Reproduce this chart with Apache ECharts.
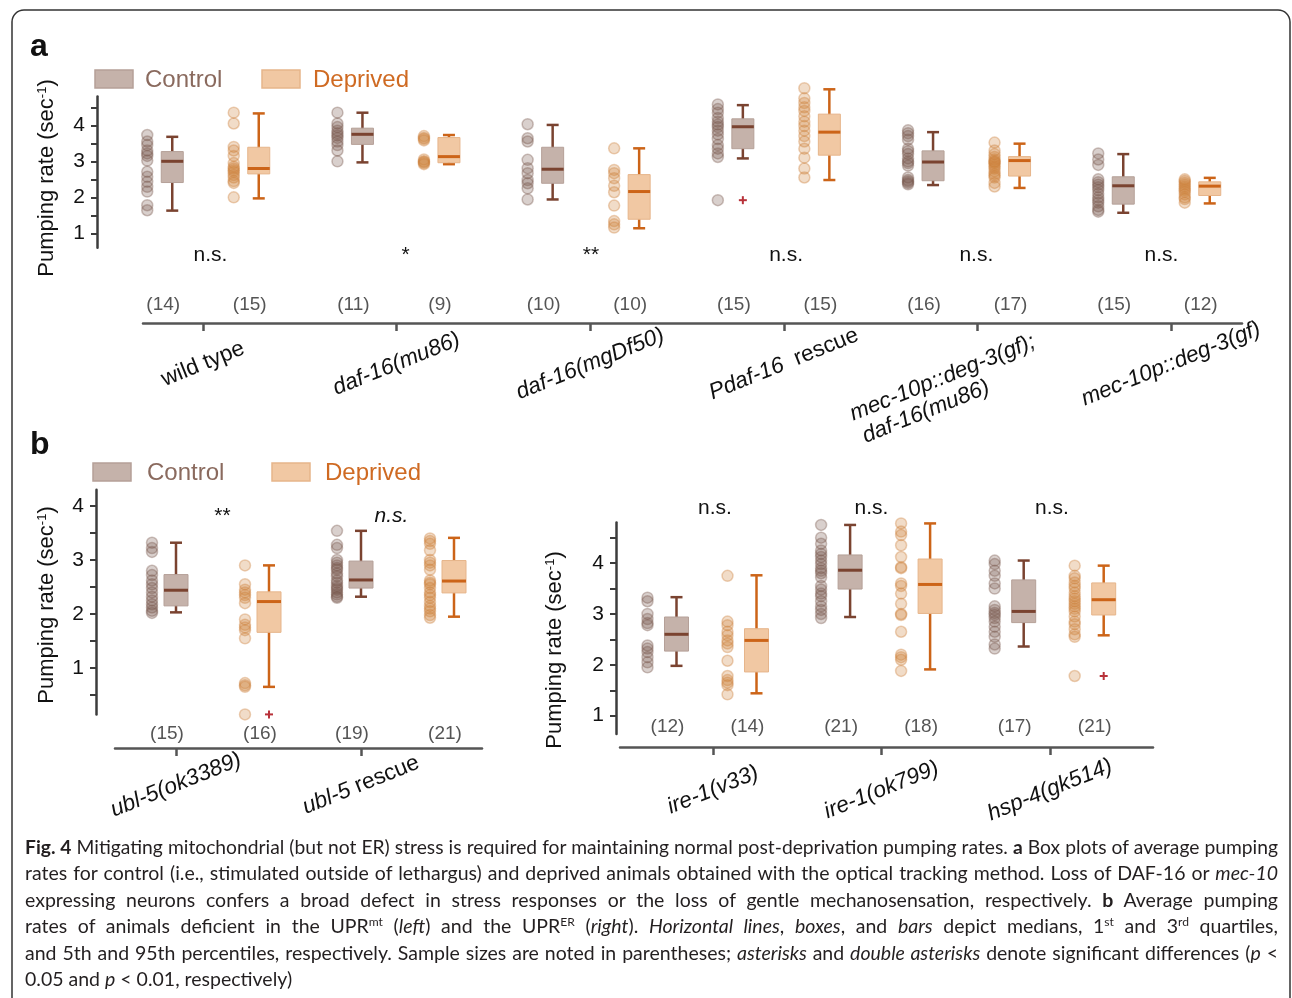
<!DOCTYPE html>
<html>
<head>
<meta charset="UTF-8" />
<title>Fig. 4</title>
<style>
* { margin: 0; padding: 0; }
body { background: #fff; }
#wrap { position: relative; width: 1292px; height: 998px; overflow: hidden; }
#chart { position: absolute; left: 0; top: 0; width: 1292px; height: 998px; }
#caption {
  position: absolute; left: 25px; top: 834px; width: 1253px;
  font-family: "Liberation Sans Narrow", "Lato", sans-serif;
  font-size: 19.5px; line-height: 26.4px; color: #231f20;
}
#caption div { text-align: justify; text-align-last: justify; }
#caption div.last { text-align-last: left; }
#caption sup { font-size: 0.62em; line-height: 0; vertical-align: 0.55em; }
</style>
</head>
<body>
<div id="wrap">
  <div id="chart"></div>
  <div id="caption">
    <div><b>Fig. 4</b> Mitigating mitochondrial (but not ER) stress is required for maintaining normal post-deprivation pumping rates. <b>a</b> Box plots of average pumping</div>
    <div>rates for control (i.e., stimulated outside of lethargus) and deprived animals obtained with the optical tracking method. Loss of DAF-16 or <i>mec-10</i></div>
    <div>expressing neurons confers a broad defect in stress responses or the loss of gentle mechanosensation, respectively. <b>b</b> Average pumping</div>
    <div>rates of animals deficient in the UPR<sup>mt</sup> (<i>left</i>) and the UPR<sup>ER</sup> (<i>right</i>). <i>Horizontal lines</i>, <i>boxes</i>, and <i>bars</i> depict medians, 1<sup>st</sup> and 3<sup>rd</sup> quartiles,</div>
    <div>and 5th and 95th percentiles, respectively. Sample sizes are noted in parentheses; <i>asterisks</i> and <i>double asterisks</i> denote significant differences (<i>p</i> &lt;</div>
    <div class="last">0.05 and <i>p</i> &lt; 0.01, respectively)</div>
  </div>
</div>
<script src="https://cdn.jsdelivr.net/npm/echarts@6/dist/echarts.min.js"></script>
<script>
// ---------- panel a ----------
// the two-line label is padded with blanks so it sits lower-left like the original
const groupsA = ['wild type', '{i|daf-16(mu86)}', '{i|daf-16(mgDf50)}', '{i|Pdaf-16}  rescue',
  ' \n{i|mec-10p::deg-3(gf);}            \n{i|daf-16(mu86)}                     ', '{i|mec-10p::deg-3(gf)}']
// [lower whisker, q1, median, q3, upper whisker]
const ctrlBoxA = [[1.63, 2.41, 3.00, 3.27, 3.68], [2.97, 3.47, 3.75, 3.92, 4.35], [1.94, 2.39, 2.78, 3.39, 4.01],
  [3.08, 3.35, 3.96, 4.18, 4.56], [2.34, 2.46, 2.98, 3.29, 3.81], [1.57, 1.81, 2.32, 2.57, 3.20]]
const depBoxA = [[1.97, 2.65, 2.80, 3.39, 4.33], [2.92, 2.96, 3.13, 3.66, 3.73], [1.14, 1.39, 2.16, 2.63, 3.36],
  [2.48, 3.17, 3.81, 4.31, 5.00], [2.26, 2.59, 3.02, 3.13, 3.49], [1.83, 2.05, 2.31, 2.43, 2.54]]
const ctrlDotsA = [
  [3.73, 3.55, 3.45, 3.30, 3.22, 3.15, 3.02, 2.71, 2.57, 2.43, 2.29, 2.16, 1.78, 1.64],
  [4.35, 4.05, 3.95, 3.85, 3.78, 3.72, 3.65, 3.55, 3.45, 3.30, 3.00],
  [4.03, 3.64, 3.55, 3.04, 2.81, 2.67, 2.48, 2.39, 2.25, 1.94],
  [4.58, 4.45, 4.35, 4.20, 4.10, 4.02, 3.95, 3.85, 3.75, 3.62, 3.45, 3.35, 3.22, 3.12, 1.92],
  [3.86, 3.78, 3.70, 3.60, 3.35, 3.28, 3.20, 3.08, 3.00, 2.95, 2.88, 2.55, 2.48, 2.44, 2.40, 2.36],
  [3.22, 3.05, 2.90, 2.50, 2.42, 2.35, 2.28, 2.20, 2.10, 2.00, 1.92, 1.85, 1.75, 1.65, 1.60]]
const depDotsA = [
  [4.35, 4.05, 3.40, 3.30, 3.15, 2.95, 2.85, 2.80, 2.75, 2.70, 2.62, 2.55, 2.45, 2.40, 2.00],
  [3.70, 3.65, 3.62, 3.58, 3.05, 3.00, 2.98, 2.95, 2.92],
  [3.36, 2.76, 2.67, 2.53, 2.32, 2.14, 1.77, 1.34, 1.25, 1.16],
  [5.03, 4.75, 4.62, 4.50, 4.40, 4.25, 4.10, 3.98, 3.85, 3.70, 3.55, 3.35, 3.10, 2.80, 2.55],
  [3.52, 3.30, 3.20, 3.12, 3.05, 3.00, 2.98, 2.95, 2.90, 2.85, 2.80, 2.72, 2.65, 2.60, 2.55, 2.40, 2.30],
  [2.50, 2.45, 2.40, 2.35, 2.30, 2.25, 2.20, 2.15, 2.08, 2.00, 1.95, 1.85]]
const ctrlOutA = [[], [], [], [1.92], [], []]
const depOutA = [[], [], [], [], [], []]
const ctrlNA = [14, 11, 10, 15, 16, 15]
const depNA = [15, 9, 10, 15, 17, 12]
const sigA = ['n.s.', '*', '**', 'n.s.', 'n.s.', 'n.s.']

// ---------- panel b, left ----------
const groupsBL = ['{i|ubl-5(ok3389)}', '{i|ubl-5} rescue']
const ctrlBoxBL = [[2.03, 2.15, 2.44, 2.73, 3.32], [2.32, 2.48, 2.63, 2.98, 3.54]]
const depBoxBL = [[0.65, 1.66, 2.23, 2.41, 2.90], [1.95, 2.39, 2.61, 2.99, 3.41]]
const ctrlDotsBL = [
  [3.32, 3.22, 3.15, 2.80, 2.72, 2.62, 2.55, 2.48, 2.40, 2.32, 2.25, 2.18, 2.12, 2.06, 2.02],
  [3.54, 3.28, 3.22, 3.00, 2.95, 2.90, 2.85, 2.82, 2.75, 2.70, 2.62, 2.58, 2.52, 2.48, 2.45, 2.40, 2.36, 2.32, 2.30]]
const depDotsBL = [
  [2.90, 2.55, 2.45, 2.40, 2.35, 2.30, 2.20, 1.90, 1.80, 1.75, 1.70, 1.55, 0.72, 0.68, 0.65, 0.14],
  [3.40, 3.35, 3.30, 3.18, 3.00, 2.95, 2.90, 2.82, 2.62, 2.58, 2.55, 2.48, 2.40, 2.35, 2.30, 2.22, 2.15, 2.10, 2.05, 1.98, 1.93]]
const ctrlOutBL = [[], []]
const depOutBL = [[0.14], []]
const ctrlNBL = [15, 19]
const depNBL = [16, 21]
const sigBL = ['**', 'n.s.']

// ---------- panel b, right ----------
const groupsBR = ['{i|ire-1(v33)}', '{i|ire-1(ok799)}', '{i|hsp-4(gk514)}']
const ctrlBoxBR = [[1.98, 2.27, 2.60, 2.94, 3.33], [2.94, 3.49, 3.86, 4.16, 4.75], [2.36, 2.83, 3.05, 3.67, 4.05]]
const depBoxBR = [[1.44, 1.86, 2.48, 2.71, 3.76], [1.91, 3.01, 3.58, 4.08, 4.78], [2.58, 2.98, 3.28, 3.61, 3.95]]
const ctrlDotsBR = [
  [3.32, 3.25, 3.00, 2.90, 2.82, 2.78, 2.38, 2.32, 2.25, 2.15, 2.05, 1.95],
  [4.75, 4.50, 4.38, 4.25, 4.18, 4.12, 4.05, 3.98, 3.90, 3.85, 3.80, 3.72, 3.55, 3.48, 3.40, 3.35, 3.25, 3.15, 3.08, 3.00, 2.92],
  [4.05, 3.98, 3.85, 3.75, 3.60, 3.50, 3.15, 3.08, 3.02, 2.98, 2.92, 2.85, 2.75, 2.65, 2.55, 2.40, 2.32]]
const depDotsBR = [
  [3.75, 2.85, 2.78, 2.65, 2.58, 2.48, 2.42, 2.35, 2.08, 1.78, 1.70, 1.65, 1.60, 1.42],
  [4.78, 4.62, 4.55, 4.35, 4.12, 3.92, 3.90, 3.60, 3.55, 3.40, 3.20, 3.00, 2.98, 2.65, 2.20, 2.15, 2.10, 1.88],
  [3.95, 3.75, 3.70, 3.62, 3.55, 3.50, 3.42, 3.35, 3.30, 3.25, 3.20, 3.15, 3.10, 3.05, 2.95, 2.85, 2.80, 2.70, 2.60, 2.55, 1.78]]
const ctrlOutBR = [[], [], []]
const depOutBR = [[], [], [1.78]]
const ctrlNBR = [12, 21, 17]
const depNBR = [14, 18, 21]
const sigBR = ['n.s.', 'n.s.', 'n.s.']

const yTicksA = [1, 1.5, 2, 2.5, 3, 3.5, 4, 4.5]
const yTicksBL = [0.5, 1, 1.5, 2, 2.5, 3, 3.5, 4]
const yTicksBR = [1, 1.5, 2, 2.5, 3, 3.5, 4, 4.5]
const yLabels = [1, 2, 3, 4]

// ---------- styles ----------
const FONT = '"Liberation Sans", Arial, Helvetica, sans-serif'
const CTRL = { fill: '#c5b2aa', edge: '#b5a098', line: '#7a4330', dot: 'rgba(120,86,76,0.28)', dotEdge: 'rgba(120,86,76,0.36)' }
const DEP = { fill: '#f1c8a3', edge: '#e6b58b', line: '#cc6418', dot: 'rgba(206,128,58,0.28)', dotEdge: 'rgba(206,128,58,0.36)' }
const PLUS = '#b8323a'
const LABEL_SIZE = 22.5

// layout of each panel (pixels)
const panels = [
  { groups: groupsA, ctrlBox: ctrlBoxA, depBox: depBoxA, ctrlDots: ctrlDotsA, depDots: depDotsA,
    ctrlOut: ctrlOutA, depOut: depOutA, ctrlN: ctrlNA, depN: depNA, sig: sigA, yTicks: yTicksA,
    yMin: 0.6, yMax: 4.8, top: 96.5, bottom: 247.7, lineLeft: 143, lineRight: 1242, yAxisX: 97, lineY: 323,
    box0: 172.25, pitch: 190.2, dodge: 86.5, dotOff: -25, countOff: -9, tick0: 203, tickPitch: 193.6,
    boxW: 22, countY: 305, sigY: 255, sigOnTicks: false, sigItalic: false, sigDx: [-5, 0, -5, 0, 0, -5], labelMargin: 41 },
  { groups: groupsBL, ctrlBox: ctrlBoxBL, depBox: depBoxBL, ctrlDots: ctrlDotsBL, depDots: depDotsBL,
    ctrlOut: ctrlOutBL, depOut: depOutBL, ctrlN: ctrlNBL, depN: depNBL, sig: sigBL, yTicks: yTicksBL,
    yMin: 0.14, yMax: 4.3, top: 489.8, bottom: 714.4, lineLeft: 115, lineRight: 482, yAxisX: 96, lineY: 748,
    box0: 176, pitch: 185, dodge: 93, dotOff: -24, countOff: -9, tick0: 176, tickPitch: 185,
    boxW: 24, countY: 734, sigY: 516, sigOnTicks: false, sigItalic: true, sigDx: [0, -16], labelMargin: 37 },
  { groups: groupsBR, ctrlBox: ctrlBoxBR, depBox: depBoxBR, ctrlDots: ctrlDotsBR, depDots: depDotsBR,
    ctrlOut: ctrlOutBR, depOut: depOutBR, ctrlN: ctrlNBR, depN: depNBR, sig: sigBR, yTicks: yTicksBR,
    yMin: 0.64, yMax: 4.8, top: 522.4, bottom: 734, lineLeft: 620, lineRight: 1153, yAxisX: 616, lineY: 747,
    box0: 676.5, pitch: 173.6, dodge: 80, dotOff: -29, countOff: -9, tick0: 713, tickPitch: 168.5,
    boxW: 24, countY: 727, sigY: 508, sigOnTicks: true, sigItalic: false, sigDx: [2, -10, 2], labelMargin: 43 }
]

const italic = { fontStyle: 'italic', fontFamily: FONT, fontSize: LABEL_SIZE, color: '#111', lineHeight: 25 }

function boxSeries(p, k, stats, shift, c) {
  return {
    type: 'custom', xAxisIndex: 2 * k, yAxisIndex: k, clip: false, z: 3,
    encode: { x: 0, y: [1, 2, 3, 4, 5] },
    data: stats.map((s, i) => [i + shift].concat(s)),
    renderItem: (params, api) => {
      const x = api.value(0)
      const lo = api.coord([x, api.value(1)])
      const q1 = api.coord([x, api.value(2)])
      const md = api.coord([x, api.value(3)])
      const q3 = api.coord([x, api.value(4)])
      const hi = api.coord([x, api.value(5)])
      const cx = lo[0], hw = p.boxW / 2, cw = 6
      const ln = { stroke: c.line, lineWidth: 2.5 }
      return { type: 'group', children: [
        { type: 'line', shape: { x1: cx, y1: hi[1], x2: cx, y2: lo[1] }, style: ln },
        { type: 'line', shape: { x1: cx - cw, y1: hi[1], x2: cx + cw, y2: hi[1] }, style: ln },
        { type: 'line', shape: { x1: cx - cw, y1: lo[1], x2: cx + cw, y2: lo[1] }, style: ln },
        { type: 'rect', shape: { x: cx - hw, y: q3[1], width: 2 * hw, height: q1[1] - q3[1] },
          style: { fill: c.fill, stroke: c.edge, lineWidth: 1 } },
        { type: 'line', shape: { x1: cx - hw, y1: md[1], x2: cx + hw, y2: md[1] }, style: { stroke: c.line, lineWidth: 3 } }
      ] }
    }
  }
}

function dotSeries(p, k, dots, shift, c) {
  const off = shift + p.dotOff / p.pitch
  return {
    type: 'scatter', xAxisIndex: 2 * k, yAxisIndex: k, clip: false, z: 2,
    symbolSize: 11,
    itemStyle: { color: c.dot, borderColor: c.dotEdge, borderWidth: 1.5, opacity: 1 },
    data: dots.flatMap((vals, i) => vals.map(v => [i + off, v]))
  }
}

function plusSeries(p, k, outs, shift) {
  return {
    type: 'custom', xAxisIndex: 2 * k, yAxisIndex: k, clip: false, z: 4,
    data: outs.flatMap((vals, i) => vals.map(v => [i + shift, v])),
    renderItem: (params, api) => {
      const c = api.coord([api.value(0), api.value(1)])
      const st = { stroke: PLUS, lineWidth: 2 }
      return { type: 'group', children: [
        { type: 'line', shape: { x1: c[0] - 4, y1: c[1], x2: c[0] + 4, y2: c[1] }, style: st },
        { type: 'line', shape: { x1: c[0], y1: c[1] - 4, x2: c[0], y2: c[1] + 4 }, style: st }
      ] }
    }
  }
}

function countSeries(p, k, ns, shift) {
  return {
    type: 'custom', xAxisIndex: 2 * k, yAxisIndex: k, clip: false, z: 4,
    data: ns.map((n, i) => [i + shift + p.countOff / p.pitch, n]),
    renderItem: (params, api) => {
      const c = api.coord([api.value(0), p.yMin])
      return { type: 'text', x: c[0], y: p.countY,
        style: { text: '(' + api.value(1) + ')', fill: '#555', fontSize: 19, fontFamily: FONT, align: 'center', verticalAlign: 'middle' } }
    }
  }
}

function sigSeries(p, k) {
  const axis = p.sigOnTicks ? 2 * k + 1 : 2 * k
  const shift = p.sigOnTicks ? 0 : p.dodge / p.pitch / 2
  return {
    type: 'custom', xAxisIndex: axis, yAxisIndex: k, clip: false, z: 4,
    data: p.sig.map((s, i) => [i + shift, p.yMin]),
    renderItem: (params, api) => {
      const c = api.coord([api.value(0), api.value(1)])
      const t = p.sig[params.dataIndex]
      return { type: 'text', x: c[0] + p.sigDx[params.dataIndex], y: p.sigY,
        style: { text: t, fill: '#111', fontSize: 21, fontFamily: FONT,
          fontStyle: (p.sigItalic && t === 'n.s.') ? 'italic' : 'normal', align: 'center', verticalAlign: 'middle' } }
    }
  }
}

const grid = [], xAxis = [], yAxis = [], series = []
panels.forEach((p, k) => {
  grid.push({ left: p.lineLeft, width: p.lineRight - p.lineLeft, top: p.top, height: p.bottom - p.top, outerBoundsMode: 'none' })
  // data axis (hidden): group i -> control box at i
  xAxis.push({ gridIndex: k, type: 'value', show: false,
    min: (p.lineLeft - p.box0) / p.pitch, max: (p.lineRight - p.box0) / p.pitch,
    axisLine: { onZero: false }, splitLine: { show: false } })
  // visible strain axis with ticks and labels
  const idx = p.groups.map((g, i) => i)
  xAxis.push({ gridIndex: k, type: 'value', position: 'bottom', offset: p.lineY - p.bottom,
    min: (p.lineLeft - p.tick0) / p.tickPitch, max: (p.lineRight - p.tick0) / p.tickPitch,
    axisLine: { show: true, onZero: false, lineStyle: { color: '#555', width: 2.5 } },
    axisTick: { show: true, customValues: idx, length: 8, lineStyle: { color: '#555', width: 2.5 } },
    axisLabel: { show: true, customValues: idx, rotate: 22, align: 'center', verticalAlign: 'middle',
      margin: p.labelMargin, fontSize: LABEL_SIZE, fontFamily: FONT, color: '#111', lineHeight: 25,
      formatter: v => p.groups[Math.round(v)], rich: { i: italic } },
    splitLine: { show: false } })
  yAxis.push({ gridIndex: k, type: 'value', position: 'left', min: p.yMin, max: p.yMax, offset: p.lineLeft - p.yAxisX,
    axisLine: { show: true, onZero: false, lineStyle: { color: '#3c3c3c', width: 2.5 } },
    axisTick: { show: true, customValues: p.yTicks, length: 6, lineStyle: { color: '#3c3c3c', width: 2 } },
    axisLabel: { show: true, customValues: yLabels, fontSize: 21, fontFamily: FONT, color: '#111', margin: 12 },
    splitLine: { show: false } })
  const sh = [0, p.dodge / p.pitch]
  series.push(boxSeries(p, k, p.ctrlBox, sh[0], CTRL), boxSeries(p, k, p.depBox, sh[1], DEP))
  series.push(dotSeries(p, k, p.ctrlDots, sh[0], CTRL), dotSeries(p, k, p.depDots, sh[1], DEP))
  series.push(plusSeries(p, k, p.ctrlOut, sh[0]), plusSeries(p, k, p.depOut, sh[1]))
  series.push(countSeries(p, k, p.ctrlN, sh[0]), countSeries(p, k, p.depN, sh[1]))
  series.push(sigSeries(p, k))
})

function yTitle(x, y) {
  return { type: 'text', x: x, y: y, rotation: Math.PI / 2,
    style: { text: 'Pumping rate (sec{s|-1})', fontSize: 22, fontFamily: FONT, fill: '#111', align: 'center', verticalAlign: 'middle',
      rich: { s: { fontSize: 13, fontFamily: FONT, fill: '#111', verticalAlign: 'top' } } } }
}
function legend(x, y, tx, label, c, color) {
  return [
    { type: 'rect', shape: { x: x, y: y, width: 38, height: 18 }, style: { fill: c.fill, stroke: c.edge, lineWidth: 1.5 } },
    { type: 'text', x: tx, y: y + 10, style: { text: label, fontSize: 24, fontFamily: FONT, fill: color, verticalAlign: 'middle' } }
  ]
}

const graphic = [
  { type: 'rect', z: -10, shape: { x: 12, y: 10, width: 1278, height: 1010, r: 12 }, style: { fill: 'none', stroke: '#333', lineWidth: 1.5 } },
  { type: 'text', x: 30, y: 47, style: { text: 'a', fontSize: 32, fontWeight: 'bold', fontFamily: FONT, fill: '#111', verticalAlign: 'middle' } },
  { type: 'text', x: 30, y: 445, style: { text: 'b', fontSize: 32, fontWeight: 'bold', fontFamily: FONT, fill: '#111', verticalAlign: 'middle' } },
  yTitle(47, 178), yTitle(47, 605), yTitle(555, 650)
].concat(
  legend(95, 70, 145, 'Control', CTRL, '#8a6a5e'), legend(262, 70, 313, 'Deprived', DEP, '#cf6a22'),
  legend(93, 463, 147, 'Control', CTRL, '#8a6a5e'), legend(272, 463, 325, 'Deprived', DEP, '#cf6a22')
)

const chart = echarts.init(document.getElementById('chart'), null, { renderer: 'canvas', width: 1292, height: 998 })
chart.setOption({
  animation: false,
  backgroundColor: '#fff',
  grid: grid,
  xAxis: xAxis,
  yAxis: yAxis,
  series: series,
  graphic: { elements: graphic }
})

// keep each caption line on one line
document.querySelectorAll('#caption div').forEach(el => {
  let fs = 19.5
  while (el.getBoundingClientRect().height > 30 && fs > 12) {
    fs -= 0.25
    el.style.fontSize = fs + 'px'
  }
})
</script>
</body>
</html>
